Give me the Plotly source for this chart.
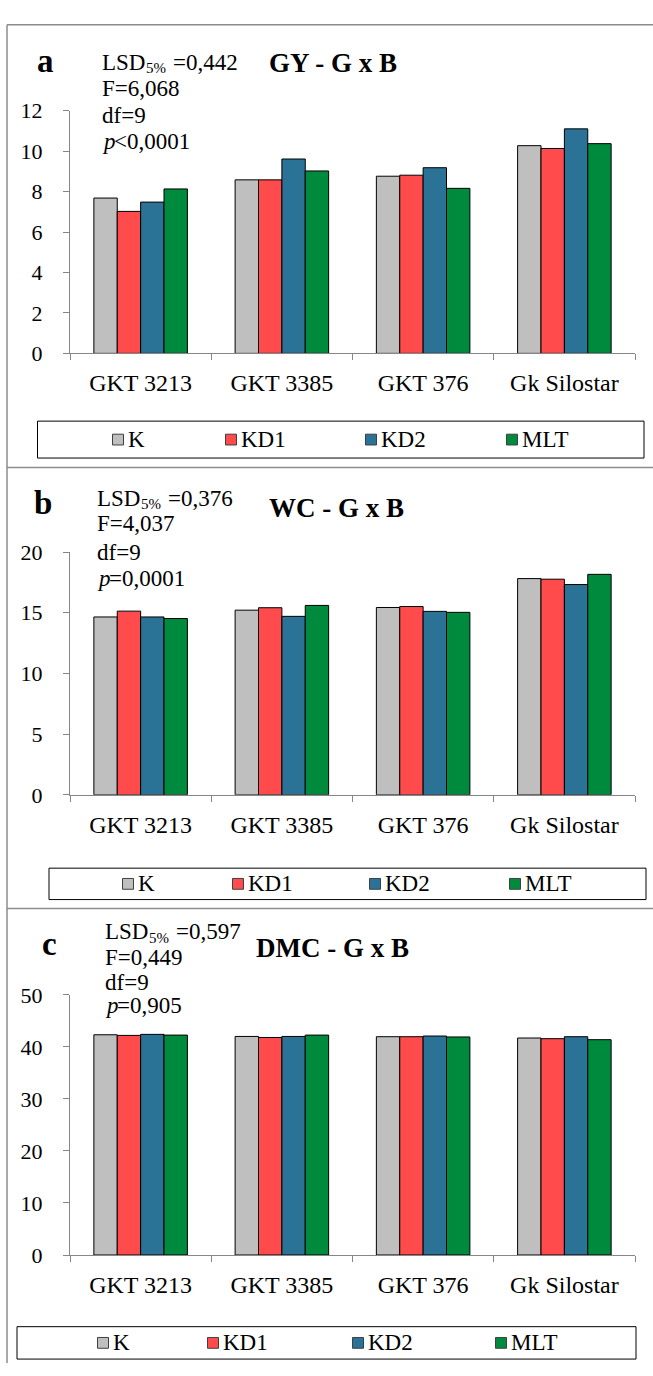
import plotly.graph_objects as go

W, H = 653, 1376

genotypes = ["GKT 3213", "GKT 3385", "GKT 376", "Gk Silostar"]
treatments = ["K", "KD1", "KD2", "MLT"]
colors = ["#BFBFBF", "#FF4B4B", "#2A7396", "#008A3E"]

# Panel a: GY
gy_K = [7.68, 8.58, 8.76, 10.27]
gy_KD1 = [7.02, 8.58, 8.81, 10.13]
gy_KD2 = [7.48, 9.61, 9.18, 11.10]
gy_MLT = [8.13, 9.02, 8.16, 10.37]

# Panel b: WC
wc_K = [14.65, 15.21, 15.43, 17.81]
wc_KD1 = [15.13, 15.41, 15.51, 17.76]
wc_KD2 = [14.65, 14.70, 15.11, 17.32]
wc_MLT = [14.52, 15.60, 15.03, 18.16]

# Panel c: DMC
dmc_K = [42.32, 42.00, 41.95, 41.70]
dmc_KD1 = [42.20, 41.80, 41.95, 41.57]
dmc_KD2 = [42.40, 42.00, 42.08, 41.95]
dmc_MLT = [42.26, 42.26, 41.90, 41.38]

y_ticks_a = [0, 2, 4, 6, 8, 10, 12]
y_ticks_b = [0, 5, 10, 15, 20]
y_ticks_c = [0, 10, 20, 30, 40, 50]

lsd_values = ["=0,442", "=0,376", "=0,597"]
f_values = ["F=6,068", "F=4,037", "F=0,449"]
df_values = ["df=9", "df=9", "df=9"]
p_values = ["&lt;0,0001", "=0,0001", "=0,905"]
titles = ["GY - G x B", "WC - G x B", "DMC - G x B"]
letters = ["a", "b", "c"]


def px(x):
    return x / W


def py(y):
    return 1 - y / H


FONT = "Liberation Serif"
AXIS_GRAY = "#868686"

panels = [
    dict(series=[gy_K, gy_KD1, gy_KD2, gy_MLT], ticks=y_ticks_a, rng=[0, 12],
         dom=[py(347.7), py(100.5)], stat_x=100, stat_y=[51, 78, 105, 132],
         letter_xy=(45, 50), title_xy=(267, 52),
         leg_box=(37.5, 416.7, 644, 454.3), leg_x=[118, 231, 371, 512], leg_y=435.5),
    dict(series=[wc_K, wc_KD1, wc_KD2, wc_MLT], ticks=y_ticks_b, rng=[0, 20],
         dom=[py(797.3), py(550)], stat_x=95, stat_y=[495, 521, 550, 577],
         letter_xy=(42.5, 500), title_xy=(267, 505),
         leg_box=(49, 872, 646, 904), leg_x=[128, 238, 375, 515], leg_y=888),
    dict(series=[dmc_K, dmc_KD1, dmc_KD2, dmc_MLT], ticks=y_ticks_c, rng=[0, 50],
         dom=[py(1266), py(1001)], stat_x=103, stat_y=[937, 963, 988, 1012],
         letter_xy=(49, 949), title_xy=(254, 953),
         leg_box=(17, 1339, 636, 1372), leg_x=[103, 213, 358, 501], leg_y=1355.5),
]

fig = go.Figure()
layout = dict(
    width=W, height=H, margin=dict(l=0, r=0, t=0, b=0),
    paper_bgcolor="white", plot_bgcolor="white",
    barmode="group", bargap=0.338, bargroupgap=0,
    showlegend=False, font=dict(family=FONT, color="black", size=20),
)
shapes = []
annotations = []


def ann(text, x, y, size, anchor="left", weight="normal", style="normal"):
    annotations.append(dict(text=text, x=px(x), y=py(y), xref="paper", yref="paper",
                            xanchor=anchor, yanchor="middle", showarrow=False,
                            font=dict(family=FONT, size=size, color="black", weight=weight, style=style)))


STAT_SIZE = 23
for i, p in enumerate(panels):
    sfx = "" if i == 0 else str(i + 1)
    xa, ya = "x" + sfx, "y" + sfx
    for name, vals, col in zip(treatments, p["series"], colors):
        fig.add_trace(go.Bar(
            x=genotypes, y=vals, name=name, xaxis=xa, yaxis=ya,
            marker=dict(color=col, line=dict(color="black", width=1)),
            showlegend=False,
        ))
    layout["xaxis" + sfx] = dict(
        domain=[px(70), px(635)], anchor=ya, type="category",
        showline=True, linecolor=AXIS_GRAY, linewidth=1,
        ticks="outside", tickson="boundaries", ticklen=6, tickcolor=AXIS_GRAY,
        showgrid=False, zeroline=False,
        tickfont=dict(family=FONT, size=24, color="black"), ticklabelstandoff=8,
    )
    layout["yaxis" + sfx] = dict(
        domain=p["dom"], anchor=xa, range=p["rng"],
        tickmode="array", tickvals=p["ticks"],
        showline=True, linecolor=AXIS_GRAY, linewidth=1,
        ticks="outside", ticklen=6, tickcolor=AXIS_GRAY,
        showgrid=False, zeroline=False,
        tickfont=dict(family=FONT, size=22, color="black"), ticklabelstandoff=16,
    )
    lx, ly = p["letter_xy"]
    ann(letters[i], lx, ly, 33, anchor="center", weight="bold")
    tx, ty = p["title_xy"]
    ann(titles[i], tx, ty, 27, weight="bold")
    sx = p["stat_x"]
    s0, s1, s2, s3 = p["stat_y"]
    ann("LSD", sx, s0, STAT_SIZE)
    ann("5%", sx + 44, s0 + 6, 15)
    ann(lsd_values[i], sx + 71, s0, STAT_SIZE)
    ann(f_values[i], sx, s1, STAT_SIZE)
    ann(df_values[i], sx, s2, STAT_SIZE)
    ann("p", sx, s3, STAT_SIZE, style="italic")
    ann(p_values[i], sx + 12, s3, STAT_SIZE)
    # legend box
    x0, y0, x1, y1 = p["leg_box"]
    shapes.append(dict(type="rect", xref="paper", yref="paper", x0=px(x0), x1=px(x1), y0=py(y0), y1=py(y1),
                       line=dict(color="black", width=1), fillcolor="rgba(0,0,0,0)"))
    for name, col, cx in zip(treatments, colors, p["leg_x"]):
        s = 5.5
        shapes.append(dict(type="rect", xref="paper", yref="paper",
                           x0=px(cx - s), x1=px(cx + s), y0=py(p["leg_y"] + s), y1=py(p["leg_y"] - s),
                           line=dict(color="#404040", width=1), fillcolor=col))
        ann(name, cx + 8, p["leg_y"], 23)

# panel frames
FRAME = "#8C8C8C"
for (xa0, ya0, xa1, ya1) in [(7, 13, 653, 13), (7, 13, 7, H), (7, 464, 653, 464), (7, 913, 653, 913)]:
    shapes.append(dict(type="line", xref="paper", yref="paper", x0=px(xa0), x1=px(xa1), y0=py(ya0), y1=py(ya1),
                       line=dict(color=FRAME, width=1.5)))

layout["shapes"] = shapes
layout["annotations"] = annotations
fig.update_layout(**layout)
fig.write_html("out.html")
